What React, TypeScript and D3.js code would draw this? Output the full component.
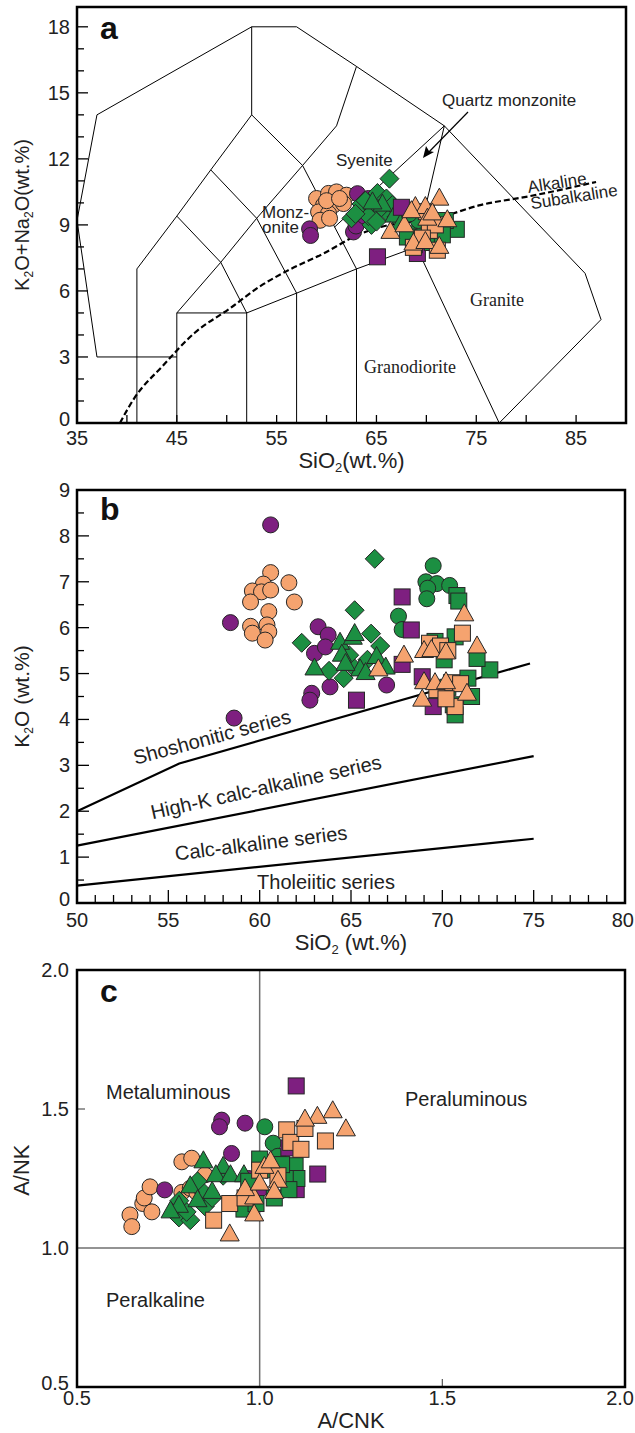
import * as d3 from "d3";

const purple = "#7e1f80";
const green = "#1c8f42";
const orange = "#f5a36f";
const edge = "#262626";
const sans = "'Liberation Sans', Arial, sans-serif";
const serif = "'Liberation Serif', 'Times New Roman', serif";

type Pt = [number, number];

// ---- panel a : TAS (SiO2 vs K2O+Na2O)
const tasOrangeCircle: Pt[] = [[59.0, 10.2], [60.2, 10.43], [61.0, 10.5], [62.0, 10.35], [59.7, 9.9], [60.7, 9.9], [61.7, 9.97], [59.2, 9.59], [60.2, 9.52], [59.35, 9.21], [60.3, 9.3], [60.0, 10.1], [61.3, 10.2]];
const tasPurpleCircle: Pt[] = [[58.3, 8.82], [58.4, 8.52], [63.1, 10.42], [62.7, 8.68], [62.95, 8.95], [64.2, 10.2], [63.8, 9.4]];
const tasGreenDiamond: Pt[] = [[66.3, 11.1], [65.1, 10.45], [63.5, 9.95], [62.5, 9.3], [64.5, 9.0], [66.0, 9.6], [66.0, 10.2], [67.0, 9.36], [63.9, 10.1], [64.8, 9.6], [65.5, 9.8], [66.6, 9.9], [64.2, 9.4], [65.0, 9.15], [62.9, 9.5]];
const tasGreenTriangle: Pt[] = [[66.8, 9.4], [65.6, 9.9], [67.4, 9.0], [64.6, 10.0]];
const tasGreenCircle: Pt[] = [[68.5, 8.6], [69.8, 8.9], [70.3, 8.4], [69.2, 9.2], [68.3, 9.5]];
const tasPurpleSquare: Pt[] = [[65.1, 7.55], [67.5, 9.8], [69.1, 7.7], [68.8, 8.1]];
const tasGreenSquare: Pt[] = [[73.0, 8.8], [68.1, 8.45], [71.9, 9.2], [70.6, 8.2], [71.6, 8.55], [69.5, 8.3]];
const tasOrangeSquare: Pt[] = [[70.3, 8.75], [68.7, 7.98], [71.1, 7.85], [70.0, 9.6], [70.9, 9.0], [69.6, 8.4]];
const tasOrangeTriangle: Pt[] = [[66.4, 8.66], [67.8, 8.96], [68.9, 9.79], [69.9, 9.79], [71.3, 10.17], [72.1, 9.19], [70.1, 9.26], [68.7, 8.13], [69.9, 8.2], [71.3, 7.98], [70.6, 9.5], [68.5, 9.6]];

const tasOuter: Pt[] = [[37, 14], [52.5, 18], [57, 18], [63, 16.2], [71.8, 13.5], [85.9, 6.8], [87.5, 4.7], [77.3, 0]];
const tasLeft: Pt[] = [[37, 14], [35, 9.2], [37, 3], [45, 3]];
const tasInner: Pt[][] = [
  [[41, 0], [41, 7], [45, 9.4], [48.4, 11.5], [52.5, 14], [52.5, 18]],
  [[45, 0], [45, 5], [52, 5], [52, 0]],
  [[45, 5], [49.4, 7.3], [53, 9.3], [57.6, 11.7], [61, 13.5], [63, 16.2]],
  [[45, 9.4], [49.4, 7.3], [52, 5], [57, 5.9], [63, 7], [69, 8], [77.3, 0]],
  [[48.4, 11.5], [53, 9.3], [57, 5.9], [57, 0]],
  [[52.5, 14], [57.6, 11.7], [63, 7], [63, 0]],
  [[69, 8], [71.8, 13.5]],
  [[60.8, 8.9], [71.8, 13.5]],
];
const irvine: Pt[] = [[39.3, 0], [40.7, 1.1], [43.6, 2.6], [46.8, 4.1], [50.3, 5.2], [53.3, 6.2], [56, 6.9], [59.7, 7.7], [63.4, 8.6], [65.4, 8.9], [71.4, 9.35], [75.4, 9.9], [80.3, 10.3], [87, 10.95]];

// ---- panel b : SiO2 vs K2O
const k2oOrangeCircle: Pt[] = [[60.6, 7.2], [61.6, 6.98], [60.2, 6.95], [59.6, 6.8], [60.1, 6.78], [60.6, 6.82], [61.9, 6.56], [59.5, 6.56], [60.5, 6.35], [60.4, 6.06], [59.5, 6.03], [59.6, 5.88], [60.5, 5.91], [60.3, 5.73]];
const k2oPurpleCircle: Pt[] = [[60.6, 8.24], [58.4, 6.11], [58.6, 4.03], [63.2, 6.02], [63.75, 5.84], [63.0, 5.44], [63.6, 5.58], [63.85, 4.71], [62.85, 4.57], [62.75, 4.42], [66.95, 4.75]];
const k2oGreenDiamond: Pt[] = [[66.3, 7.5], [65.2, 6.38], [62.3, 5.67], [63.8, 5.06], [64.6, 4.9], [65.1, 5.15], [66.1, 5.87], [66.6, 5.6], [65.9, 5.3], [64.9, 5.4]];
const k2oGreenTriangle: Pt[] = [[64.4, 5.66], [65.1, 5.77], [64.5, 5.4], [63.0, 5.1], [65.5, 5.08], [66.4, 5.35], [66.9, 5.12], [65.8, 5.0], [64.7, 5.2], [65.2, 5.85]];
const k2oGreenCircle: Pt[] = [[69.5, 7.35], [69.1, 7.0], [69.7, 6.96], [70.4, 6.92], [69.2, 6.86], [69.15, 6.63], [67.6, 6.25], [67.8, 5.96]];
const k2oPurpleSquare: Pt[] = [[67.8, 6.67], [68.3, 5.95], [65.3, 4.42], [67.8, 5.2], [68.9, 4.93], [69.5, 4.28]];
const k2oGreenSquare: Pt[] = [[70.8, 6.7], [70.9, 6.58], [72.6, 5.08], [71.9, 5.33], [70.7, 5.8], [70.6, 4.32], [70.7, 4.1], [71.4, 4.9], [70.1, 5.3], [71.6, 4.5], [70.3, 4.7], [69.6, 5.7]];
const k2oOrangeSquare: Pt[] = [[71.1, 5.88], [69.3, 5.66], [69.9, 5.6], [70.3, 5.5], [70.5, 4.8], [71.0, 4.78], [69.7, 4.65], [70.7, 4.28], [70.2, 4.45]];
const k2oOrangeTriangle: Pt[] = [[71.2, 6.28], [71.9, 5.58], [67.9, 5.38], [66.5, 5.08], [69.0, 5.48], [69.4, 5.5], [70.2, 5.45], [69.0, 4.8], [69.6, 4.78], [70.2, 4.8], [71.35, 4.55], [68.9, 4.42]];

const shoshoniteLine: Pt[] = [[50, 2.0], [55.6, 3.04], [74.8, 5.22]];
const highKLine: Pt[] = [[50, 1.25], [75, 3.2]];
const calcAlkLine: Pt[] = [[50, 0.38], [75, 1.4]];

// ---- panel c : A/CNK vs A/NK
const acnkOrangeCircle: Pt[] = [[0.645, 1.119], [0.65, 1.077], [0.68, 1.16], [0.705, 1.13], [0.684, 1.18], [0.7, 1.22], [0.787, 1.31], [0.814, 1.323], [0.85, 1.263], [0.787, 1.2], [0.81, 1.215], [0.828, 1.2]];
const acnkPurpleCircle: Pt[] = [[0.896, 1.46], [0.89, 1.436], [0.96, 1.449], [0.923, 1.34], [0.74, 1.209], [0.97, 1.25], [1.0, 1.21]];
const acnkGreenDiamond: Pt[] = [[0.779, 1.11], [0.81, 1.1], [0.85, 1.15], [0.846, 1.2], [0.9, 1.26], [0.8, 1.13], [0.87, 1.18], [0.83, 1.24], [0.78, 1.17]];
const acnkGreenTriangle: Pt[] = [[0.779, 1.15], [0.756, 1.13], [0.846, 1.31], [0.9, 1.29], [0.88, 1.26], [0.92, 1.26], [0.957, 1.26], [0.81, 1.22], [0.83, 1.17], [0.87, 1.2]];
const acnkGreenCircle: Pt[] = [[1.014, 1.436], [1.037, 1.377], [1.05, 1.33], [1.02, 1.28]];
const acnkPurpleSquare: Pt[] = [[1.1, 1.583], [1.159, 1.266], [1.1, 1.21], [1.08, 1.36]];
const acnkGreenSquare: Pt[] = [[1.097, 1.296], [1.102, 1.25], [1.07, 1.25], [1.0, 1.32], [0.97, 1.24], [0.957, 1.14], [1.04, 1.18], [1.06, 1.3], [0.99, 1.16], [1.08, 1.21]];
const acnkOrangeSquare: Pt[] = [[1.074, 1.425], [1.085, 1.38], [1.113, 1.355], [1.124, 1.43], [1.18, 1.385], [0.874, 1.1], [0.918, 1.16], [1.05, 1.26], [1.0, 1.28], [0.96, 1.18]];
const acnkOrangeTriangle: Pt[] = [[0.918, 1.047], [0.985, 1.119], [0.985, 1.18], [1.013, 1.29], [1.03, 1.31], [1.05, 1.24], [0.96, 1.21], [1.0, 1.23], [1.2, 1.49], [1.158, 1.47], [1.124, 1.46], [1.236, 1.425], [1.04, 1.2]];

const xTicksA = d3.range(35, 91, 5);
const xLabelsA = [35, 45, 55, 65, 75, 85];
const yLabelsA = [0, 3, 6, 9, 12, 15, 18];
const xLabelsB = [50, 55, 60, 65, 70, 75, 80];
const yLabelsB = [0, 1, 2, 3, 4, 5, 6, 7, 8, 9];
const labelsC = [0.5, 1.0, 1.5, 2.0];

type Shape = "circle" | "square" | "triangle" | "diamond";

function Marker({ shape, x, y, fill }: { shape: Shape; x: number; y: number; fill: string }) {
  if (shape === "circle") return <circle cx={x} cy={y} r={8} fill={fill} stroke={edge} strokeWidth={1} />;
  if (shape === "square") return <rect x={x - 8} y={y - 8} width={16} height={16} fill={fill} stroke={edge} strokeWidth={1} />;
  if (shape === "triangle")
    return <path d={`M${x},${y - 11}L${x + 9.5},${y + 6}L${x - 9.5},${y + 6}Z`} fill={fill} stroke={edge} strokeWidth={1} />;
  return <path d={`M${x},${y - 9.5}L${x + 9.5},${y}L${x},${y + 9.5}L${x - 9.5},${y}Z`} fill={fill} stroke={edge} strokeWidth={1} />;
}

function Points({ groups, x, y }: { groups: [Pt[], Shape, string][]; x: d3.ScaleLinear<number, number>; y: d3.ScaleLinear<number, number> }) {
  return (
    <g>
      {groups.map(([pts, shape, fill], gi) =>
        pts.map((p, i) => <Marker key={gi + "-" + i} shape={shape} x={x(p[0])} y={y(p[1])} fill={fill} />)
      )}
    </g>
  );
}

export default function App() {
  // scales
  const xA = d3.scaleLinear().domain([35, 90]).range([77, 626]);
  const yA = d3.scaleLinear().domain([0, 18.9]).range([423, 7]);
  const xB = d3.scaleLinear().domain([50, 80]).range([77, 625]);
  const yB = d3.scaleLinear().domain([0, 9]).range([903, 490]);
  const xC = d3.scaleLinear().domain([0.5, 2]).range([77, 625]);
  const yC = d3.scaleLinear().domain([0.5, 2]).range([1387, 970]);

  const lineA = d3.line<Pt>().x((d) => xA(d[0])).y((d) => yA(d[1]));
  const curveA = d3.line<Pt>().x((d) => xA(d[0])).y((d) => yA(d[1])).curve(d3.curveMonotoneX);
  const lineB = d3.line<Pt>().x((d) => xB(d[0])).y((d) => yB(d[1]));

  const groupsA: [Pt[], Shape, string][] = [
    [tasOrangeCircle, "circle", orange], [tasPurpleCircle, "circle", purple], [tasGreenDiamond, "diamond", green],
    [tasGreenTriangle, "triangle", green], [tasGreenCircle, "circle", green], [tasPurpleSquare, "square", purple],
    [tasGreenSquare, "square", green], [tasOrangeSquare, "square", orange], [tasOrangeTriangle, "triangle", orange],
  ];
  const groupsB: [Pt[], Shape, string][] = [
    [k2oOrangeCircle, "circle", orange], [k2oPurpleCircle, "circle", purple], [k2oGreenDiamond, "diamond", green],
    [k2oGreenTriangle, "triangle", green], [k2oGreenCircle, "circle", green], [k2oPurpleSquare, "square", purple],
    [k2oGreenSquare, "square", green], [k2oOrangeSquare, "square", orange], [k2oOrangeTriangle, "triangle", orange],
  ];
  const groupsC: [Pt[], Shape, string][] = [
    [acnkOrangeCircle, "circle", orange], [acnkPurpleCircle, "circle", purple], [acnkGreenDiamond, "diamond", green],
    [acnkGreenTriangle, "triangle", green], [acnkGreenCircle, "circle", green], [acnkPurpleSquare, "square", purple],
    [acnkGreenSquare, "square", green], [acnkOrangeSquare, "square", orange], [acnkOrangeTriangle, "triangle", orange],
  ];

  const tick = { stroke: "#000", strokeWidth: 1.3 };
  const lab = { fontFamily: sans, fontSize: 20, fill: "#222" };
  const ann = { fontFamily: sans, fontSize: 17, fill: "#222" };

  return (
    <svg width={635} height={1433} style={{ position: "absolute", left: 0, top: 0, background: "#fff" }}>
      {/* ================= panel a ================= */}
      <g>
        <path d={lineA(tasOuter)!} fill="none" stroke="#000" strokeWidth={1} />
        <path d={lineA(tasLeft)!} fill="none" stroke="#000" strokeWidth={1} />
        {tasInner.map((l, i) => (
          <path key={i} d={lineA(l)!} fill="none" stroke="#000" strokeWidth={1} />
        ))}
        <path d={curveA(irvine)!} fill="none" stroke="#000" strokeWidth={2.2} strokeDasharray="6,3" />
        <Points groups={groupsA} x={xA} y={yA} />
        {xTicksA.map((t) => (
          <line key={t} x1={xA(t)} x2={xA(t)} y1={yA(0)} y2={yA(0) - 8} {...tick} />
        ))}
        {d3.range(0, 19).map((t) => (
          <line key={t} x1={xA(35)} x2={xA(35) + (t % 3 === 0 ? 11 : 7)} y1={yA(t)} y2={yA(t)} {...tick} />
        ))}
        <rect x={xA(35)} y={yA(18.9)} width={xA(90) - xA(35)} height={yA(0) - yA(18.9)} fill="none" stroke="#000" strokeWidth={2.5} />
        {xLabelsA.map((t) => (
          <text key={t} x={xA(t)} y={445} textAnchor="middle" {...lab}>{t}</text>
        ))}
        {yLabelsA.map((t) => (
          <text key={t} x={70} y={yA(t) + (t === 0 ? 3 : 7)} textAnchor="end" {...lab}>{t}</text>
        ))}
        <text x={(xA(35) + xA(90)) / 2} y={468} textAnchor="middle" fontFamily={sans} fontSize={22} fill="#222">
          SiO<tspan fontSize={13} dy={4}>2</tspan><tspan dy={-4}>(wt.%)</tspan>
        </text>
        <text transform={`translate(29,${yA(9.45)}) rotate(-90)`} textAnchor="middle" fontFamily={sans} fontSize={20} fill="#222">
          K<tspan fontSize={12} dy={4}>2</tspan><tspan dy={-4}>O+Na</tspan><tspan fontSize={12} dy={4}>2</tspan><tspan dy={-4}>O(wt.%)</tspan>
        </text>
        <text x={100} y={39} fontFamily={sans} fontSize={32} fontWeight="bold" fill="#111">a</text>
        <text x={442} y={106} {...ann}>Quartz monzonite</text>
        <line x1={468} y1={112} x2={426} y2={155} stroke="#000" strokeWidth={1.2} />
        <path d="M423,158 L426,146 L429,151 L434,152 Z" fill="#000" />
        <text x={336} y={166} {...ann}>Syenite</text>
        <text x={262} y={218} {...ann}>Monz-</text>
        <text x={262} y={233} {...ann}>onite</text>
        <text transform={`translate(557,183) rotate(-9)`} textAnchor="middle" dominantBaseline="central" {...ann}>Alkaline</text>
        <text transform={`translate(574,197) rotate(-9)`} textAnchor="middle" dominantBaseline="central" {...ann}>Subalkaline</text>
        <text x={470} y={306} fontFamily={serif} fontSize={18} fill="#222">Granite</text>
        <text x={364} y={373} fontFamily={serif} fontSize={18} fill="#222">Granodiorite</text>
      </g>

      {/* ================= panel b ================= */}
      <g>
        <path d={lineB(shoshoniteLine)!} fill="none" stroke="#000" strokeWidth={2.2} />
        <path d={lineB(highKLine)!} fill="none" stroke="#000" strokeWidth={2.2} />
        <path d={lineB(calcAlkLine)!} fill="none" stroke="#000" strokeWidth={2.2} />
        <Points groups={groupsB} x={xB} y={yB} />
        {d3.range(50, 81, 1).map((t) => (
          <line key={t} x1={xB(t)} x2={xB(t)} y1={yB(0)} y2={yB(0) - (t % 5 === 0 ? 13 : 8)} {...tick} />
        ))}
        {d3.range(0, 9.01, 0.5).map((t) => (
          <line key={t} x1={xB(50)} x2={xB(50) + (t % 1 === 0 ? 12 : 7)} y1={yB(t)} y2={yB(t)} {...tick} />
        ))}
        <rect x={xB(50)} y={yB(9)} width={xB(80) - xB(50)} height={yB(0) - yB(9)} fill="none" stroke="#000" strokeWidth={2.5} />
        {xLabelsB.map((t) => (
          <text key={t} x={t === 80 ? 634 : xB(t)} y={927} textAnchor={t === 80 ? "end" : "middle"} {...lab}>{t}</text>
        ))}
        {yLabelsB.map((t) => (
          <text key={t} x={70} y={yB(t) + (t === 0 ? 3 : 7)} textAnchor="end" {...lab}>{t}</text>
        ))}
        <text x={(xB(50) + xB(80)) / 2} y={950} textAnchor="middle" fontFamily={sans} fontSize={22} fill="#222">
          SiO<tspan fontSize={13} dy={4}>2</tspan><tspan dy={-4}> (wt.%)</tspan>
        </text>
        <text transform={`translate(29,${yB(4.5)}) rotate(-90)`} textAnchor="middle" fontFamily={sans} fontSize={21} fill="#222">
          K<tspan fontSize={12} dy={4}>2</tspan><tspan dy={-4}>O (wt.%)</tspan>
        </text>
        <text x={100} y={520} fontFamily={sans} fontSize={32} fontWeight="bold" fill="#111">b</text>
        <text transform="translate(212,737) rotate(-15)" textAnchor="middle" dominantBaseline="central" {...lab}>Shoshonitic series</text>
        <text transform="translate(266,787) rotate(-12.5)" textAnchor="middle" dominantBaseline="central" {...lab}>High-K calc-alkaline series</text>
        <text transform="translate(261,843) rotate(-7)" textAnchor="middle" dominantBaseline="central" {...lab}>Calc-alkaline series</text>
        <text x={326} y={889} textAnchor="middle" {...lab}>Tholeiitic series</text>
      </g>

      {/* ================= panel c ================= */}
      <g>
        <line x1={xC(1)} x2={xC(1)} y1={yC(0.5)} y2={yC(2)} stroke="#6f6f6f" strokeWidth={1.5} />
        <line x1={xC(0.5)} x2={xC(2)} y1={yC(1)} y2={yC(1)} stroke="#6f6f6f" strokeWidth={1.5} />
        <Points groups={groupsC} x={xC} y={yC} />
        <line x1={xC(0.5)} x2={xC(0.5) + 8} y1={yC(1.5)} y2={yC(1.5)} stroke="#555" strokeWidth={1.2} />
        <line x1={xC(1.5)} x2={xC(1.5)} y1={yC(0.5)} y2={yC(0.5) - 8} stroke="#555" strokeWidth={1.2} />
        <rect x={xC(0.5)} y={yC(2)} width={xC(2) - xC(0.5)} height={yC(0.5) - yC(2)} fill="none" stroke="#000" strokeWidth={2.5} />
        {labelsC.map((t) => (
          <text key={"x" + t} x={t === 2 ? 634 : xC(t)} y={1405} textAnchor={t === 2 ? "end" : "middle"} {...lab}>{t.toFixed(1)}</text>
        ))}
        {labelsC.map((t) => (
          <text key={"y" + t} x={69} y={yC(t) + (t === 0.5 ? 3 : 7)} textAnchor="end" {...lab}>{t.toFixed(1)}</text>
        ))}
        <text x={(xC(0.5) + xC(2)) / 2} y={1428} textAnchor="middle" fontFamily={sans} fontSize={22} fill="#222">A/CNK</text>
        <text transform={`translate(29,${yC(1.28)}) rotate(-90)`} textAnchor="middle" fontFamily={sans} fontSize={22} fill="#222">A/NK</text>
        <text x={100} y={1002} fontFamily={sans} fontSize={32} fontWeight="bold" fill="#111">c</text>
        <text x={106} y={1099} {...lab}>Metaluminous</text>
        <text x={405} y={1106} {...lab}>Peraluminous</text>
        <text x={106} y={1307} {...lab}>Peralkaline</text>
      </g>
    </svg>
  );
}
